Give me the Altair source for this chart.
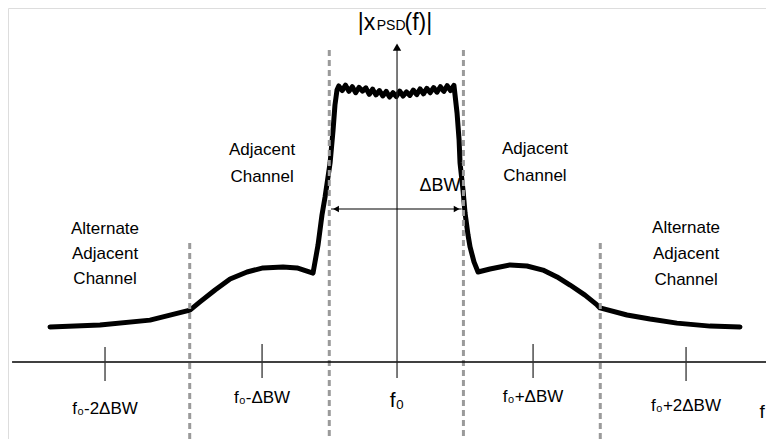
import altair as alt
import pandas as pd

# ---- data (frequency offset in units of ΔBW from f0, normalized PSD magnitude) ----
left_x = [-2.561, -2.192, -1.823, -1.528, -1.454, -1.343, -1.232, -1.107, -0.989, -0.841,
          -0.738, -0.620, -0.583, -0.554, -0.531, -0.494, -0.472, -0.458, -0.443]
left_y = [0.129, 0.136, 0.154, 0.191, 0.221, 0.265, 0.305, 0.331, 0.346, 0.349,
          0.346, 0.327, 0.430, 0.540, 0.607, 0.732, 0.853, 0.945, 1.000]
top_x = [-0.430, -0.405, -0.380, -0.355, -0.330, -0.305, -0.280, -0.255, -0.230, -0.205,
         -0.180, -0.155, -0.130, -0.105, -0.080, -0.055, -0.030, -0.005, 0.020, 0.045,
         0.070, 0.095, 0.120, 0.145, 0.170, 0.195, 0.220, 0.245, 0.270, 0.295,
         0.320, 0.345, 0.370, 0.395, 0.420]
top_y = [1.015, 0.998, 1.018, 0.995, 1.012, 0.990, 1.010, 0.996, 1.008, 0.984,
         1.003, 0.982, 0.998, 0.978, 0.995, 0.974, 0.990, 0.976, 0.996, 0.978,
         0.993, 0.980, 1.000, 0.983, 1.004, 0.986, 1.006, 0.990, 1.009, 0.992,
         1.012, 0.995, 1.016, 0.998, 1.017]
right_x = [0.428, 0.443, 0.458, 0.465, 0.487, 0.502, 0.524, 0.539, 0.568, 0.598,
           0.686, 0.834, 0.959, 1.077, 1.181, 1.277, 1.387, 1.476, 1.498, 1.697,
           1.867, 2.066, 2.310, 2.531]
right_y = [0.982, 0.915, 0.816, 0.732, 0.632, 0.548, 0.467, 0.423, 0.368, 0.331,
           0.342, 0.357, 0.353, 0.338, 0.313, 0.283, 0.246, 0.210, 0.199, 0.173,
           0.158, 0.143, 0.132, 0.129]

boundary_x = [-1.53, -0.50, 0.49, 1.50]
boundary_top = [0.4375, 1.147, 1.147, 0.4375]

tick_x = [-2.155, -0.996, 1.004, 2.133]
tick_lo = [-0.070, -0.059, -0.059, -0.070]
tick_hi = [0.055, 0.066, 0.066, 0.055]

label_x = [-2.155, -0.996, 0.0, 1.004, 2.133]
label_y = [-0.172, -0.134, -0.142, -0.130, -0.160]
label_text = ["f₀-2ΔBW", "f₀-ΔBW", "f₀", "f₀+ΔBW", "f₀+2ΔBW"]
label_size = [17, 17, 21, 17, 17]

region_text = ["Alternate", "Adjacent", "Channel", "Adjacent", "Channel",
               "Adjacent", "Channel", "Alternate", "Adjacent", "Channel"]
region_x = [-2.155, -2.155, -2.155, -0.996, -0.996, 1.018, 1.018, 2.133, 2.133, 2.133]
region_y = [0.489, 0.397, 0.305, 0.779, 0.680, 0.783, 0.684, 0.493, 0.397, 0.301]

XMIN, XMAX = -2.871, 2.723
YMIN, YMAX = -0.283, 1.3015
FONT = "Liberation Sans Narrow, Arial Narrow, Liberation Sans, Arial, sans-serif"

xs = alt.Scale(domain=[XMIN, XMAX], nice=False, zero=False)
ys = alt.Scale(domain=[YMIN, YMAX], nice=False, zero=False)
X = lambda f="x": alt.X(f"{f}:Q", scale=xs, axis=None)
Y = lambda f="y": alt.Y(f"{f}:Q", scale=ys, axis=None)

curve = pd.DataFrame({
    "x": left_x + top_x + right_x,
    "y": left_y + top_y + right_y,
})
curve["i"] = range(len(curve))

curve_line = alt.Chart(curve).mark_line(color="black", strokeWidth=5, strokeJoin="round",
                                        strokeCap="round").encode(x=X(), y=Y(), order="i:Q")

bounds = pd.DataFrame({"x": boundary_x, "y": boundary_top, "y2": [YMIN] * 4})
bound_rules = alt.Chart(bounds).mark_rule(color="#9a9a9a", strokeWidth=3,
                                          strokeDash=[6, 4]).encode(x=X(), y=Y(), y2="y2:Q")

h_axis = alt.Chart(pd.DataFrame({"x": [-2.841], "x2": [XMAX], "y": [0.0]})).mark_rule(
    color="black", strokeWidth=1.5).encode(x=X(), x2="x2:Q", y=Y())
v_axis = alt.Chart(pd.DataFrame({"x": [0.0], "y": [-0.059], "y2": [1.15]})).mark_rule(
    color="#222", strokeWidth=1.2).encode(x=X(), y=Y(), y2="y2:Q")
v_arrow = alt.Chart(pd.DataFrame({"x": [0.0], "y": [1.158]})).mark_point(
    shape="triangle-up", filled=True, color="black", size=70, opacity=1).encode(x=X(), y=Y())

ticks = pd.DataFrame({"x": tick_x, "y": tick_lo, "y2": tick_hi})
tick_rules = alt.Chart(ticks).mark_rule(color="#333", strokeWidth=1.3).encode(
    x=X(), y=Y(), y2="y2:Q")

labels = pd.DataFrame({"x": label_x, "y": label_y, "t": label_text, "s": label_size})
tick_labels = alt.Chart(labels).mark_text(font=FONT, color="black", baseline="middle").encode(
    x=X(), y=Y(), text="t:N", size=alt.Size("s:Q", scale=None, legend=None))

regions = pd.DataFrame({"x": region_x, "y": region_y, "t": region_text})
region_labels = alt.Chart(regions).mark_text(font=FONT, fontSize=17, color="black",
                                             baseline="middle").encode(x=X(), y=Y(), text="t:N")

bw = pd.DataFrame({"x": [-0.487], "x2": [0.477], "y": [0.5625]})
bw_line = alt.Chart(bw).mark_rule(color="black", strokeWidth=1.2).encode(x=X(), x2="x2:Q", y=Y())
bw_heads = alt.Chart(pd.DataFrame({"x": [-0.450, 0.440], "y": [0.5625, 0.5625],
                                   "s": ["triangle-left", "triangle-right"]})).mark_point(
    filled=True, color="black", size=45, opacity=1).encode(
    x=X(), y=Y(), shape=alt.Shape("s:N", scale=None, legend=None))
bw_label = alt.Chart(pd.DataFrame({"x": [0.317], "y": [0.647], "t": ["ΔBW"]})).mark_text(
    font=FONT, fontSize=18, color="black", baseline="middle").encode(x=X(), y=Y(), text="t:N")

title_parts = pd.DataFrame({"x": [-0.290, -0.150, 0.055], "y": [1.221, 1.221, 1.221],
                            "t": ["|x", "PSD", "(f)|"], "s": [23, 14, 23]})
title = alt.Chart(title_parts).mark_text(font=FONT, color="black", align="left",
                                         baseline="alphabetic").encode(
    x=X(), y=Y(), text="t:N", size=alt.Size("s:Q", scale=None, legend=None))

f_label = alt.Chart(pd.DataFrame({"x": [2.675], "y": [-0.184], "t": ["f"]})).mark_text(
    font=FONT, fontSize=19, color="black", align="left", baseline="middle").encode(
    x=X(), y=Y(), text="t:N")

chart = alt.layer(
    curve_line, bound_rules, h_axis, v_axis, v_arrow, tick_rules, tick_labels,
    region_labels, bw_line, bw_heads, bw_label, title, f_label
).properties(
    width=758, height=431, padding=0, autosize="none"
).configure_view(stroke=None).configure(background="white")

chart.save("out.html", embed_options={"renderer": "svg", "actions": False})
